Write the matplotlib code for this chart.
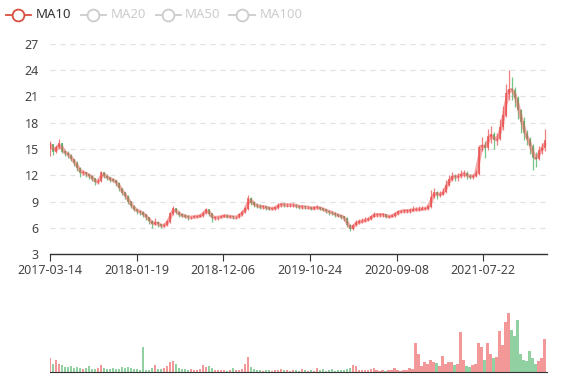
import numpy as np
import pandas as pd
import matplotlib
matplotlib.use("Agg")
import matplotlib.pyplot as plt
from matplotlib.lines import Line2D

plt.rcParams['font.family'] = ['Noto Sans', 'DejaVu Sans']

# tick labels on the category (trading day) axis
date_labels = ['2017-03-14', '2018-01-19', '2018-12-06', '2019-10-24', '2020-09-08', '2021-07-22']
label_days = [0, 207, 414, 621, 828, 1035]
total_days = 1187
days_per_sample = 7.16

# prices, roughly one sample per 7 trading days
first_open = 15.0
closes = [
    15.5, 14.6, 15.2, 15.6, 14.7, 14.5, 14.3, 13.8, 13.4, 12.8,
    12.3, 12.3, 12.1, 11.9, 11.6, 11.2, 11.3, 12.3, 11.9, 11.7,
    11.5, 11.4, 11.1, 10.5, 10.0, 9.6, 9.0, 8.5, 8.1, 7.9,
    7.8, 7.5, 7.2, 6.8, 6.4, 6.6, 6.4, 6.2, 6.3, 6.7,
    7.6, 8.2, 7.8, 7.5, 7.4, 7.3, 7.2, 7.2, 7.3, 7.3,
    7.4, 7.7, 8.1, 7.6, 7.1, 7.2, 7.2, 7.3, 7.4, 7.3,
    7.3, 7.2, 7.2, 7.5, 7.8, 8.2, 9.4, 8.9, 8.6, 8.5,
    8.4, 8.4, 8.3, 8.2, 8.2, 8.3, 8.6, 8.7, 8.6, 8.6,
    8.6, 8.6, 8.5, 8.4, 8.4, 8.35, 8.35, 8.2, 8.3, 8.35,
    8.2, 8.1, 7.9, 7.8, 7.7, 7.5, 7.4, 7.3, 7.1, 6.3,
    5.9, 6.3, 6.6, 6.7, 6.8, 6.9, 7.0, 7.3, 7.5, 7.5,
    7.5, 7.5, 7.3, 7.3, 7.4, 7.6, 7.85, 7.9, 7.95, 7.95,
    7.95, 8.1, 8.1, 8.1, 8.2, 8.2, 8.4, 9.5, 10.0, 9.8,
    9.8, 10.1, 10.9, 11.5, 11.85, 11.8, 11.9, 12.1, 12.2, 11.9,
    11.85, 11.9, 12.2, 15.2, 15.4, 15.1, 16.4, 16.6, 16.0, 16.1,
    17.5, 18.8, 21.3, 21.8, 21.7, 20.8, 19.4, 18.1, 16.8, 16.1,
    15.3, 14.0, 13.9, 14.8, 15.1, 16.0,
]
highs = [
    15.9, 15.6, 15.5, 16.1, 15.7, 14.9, 14.8, 14.4, 13.9, 13.6,
    12.9, 12.6, 12.4, 12.2, 12.0, 11.7, 11.6, 12.5, 12.4, 12.1,
    11.8, 11.7, 11.5, 11.2, 10.6, 10.1, 9.7, 9.1, 8.6, 8.2,
    8.1, 7.9, 7.6, 7.3, 6.9, 7.1, 6.8, 6.5, 6.6, 6.9,
    7.8, 8.5, 8.3, 7.9, 7.7, 7.6, 7.5, 7.4, 7.5, 7.5,
    7.6, 7.9, 8.3, 8.2, 7.7, 7.4, 7.4, 7.5, 7.6, 7.5,
    7.5, 7.4, 7.4, 7.7, 8.0, 8.4, 9.7, 9.5, 9.1, 8.8,
    8.7, 8.6, 8.5, 8.4, 8.4, 8.5, 8.9, 8.9, 8.8, 8.8,
    8.8, 8.8, 8.7, 8.6, 8.6, 8.5, 8.5, 8.4, 8.5, 8.6,
    8.4, 8.3, 8.2, 8.0, 7.9, 7.8, 7.6, 7.5, 7.4, 7.2,
    6.4, 6.5, 6.9, 7.0, 7.1, 7.2, 7.3, 7.5, 7.8, 7.7,
    7.7, 7.7, 7.6, 7.5, 7.6, 7.8, 8.1, 8.1, 8.2, 8.2,
    8.3, 8.5, 8.4, 8.5, 8.5, 8.4, 8.6, 10.3, 10.5, 10.2,
    10.2, 10.5, 11.5, 12.0, 12.4, 12.2, 12.3, 12.6, 12.6, 12.5,
    12.2, 12.2, 12.6, 15.4, 16.4, 15.9, 17.3, 17.6, 16.9, 16.8,
    18.4, 19.9, 22.4, 24.0, 23.2, 22.0, 21.0, 19.6, 18.6, 17.2,
    16.4, 15.6, 14.6, 15.3, 15.7, 17.3,
]
lows = [
    14.2, 14.3, 14.5, 15.0, 14.5, 14.2, 14.0, 13.6, 13.1, 12.5,
    11.8, 12.0, 11.8, 11.6, 11.3, 10.9, 11.0, 11.2, 11.7, 11.5,
    11.2, 11.2, 10.8, 10.2, 9.8, 9.3, 8.7, 8.3, 7.9, 7.6,
    7.5, 7.2, 6.9, 6.5, 6.0, 6.3, 6.1, 6.0, 6.1, 6.2,
    6.6, 7.5, 7.6, 7.3, 7.2, 7.1, 6.9, 7.0, 7.1, 7.1,
    7.2, 7.3, 7.6, 7.4, 6.7, 6.9, 6.9, 7.1, 7.2, 7.1,
    7.1, 7.0, 7.0, 7.1, 7.4, 7.7, 8.1, 8.6, 8.4, 8.3,
    8.2, 8.2, 8.1, 8.0, 8.0, 8.1, 8.2, 8.4, 8.4, 8.4,
    8.4, 8.4, 8.3, 8.2, 8.2, 8.2, 8.2, 8.0, 8.1, 8.2,
    8.0, 7.9, 7.7, 7.5, 7.5, 7.3, 7.2, 7.0, 6.8, 6.1,
    5.7, 5.8, 6.2, 6.5, 6.6, 6.7, 6.8, 6.9, 7.2, 7.3,
    7.3, 7.3, 7.1, 7.1, 7.2, 7.3, 7.5, 7.7, 7.7, 7.7,
    7.7, 7.9, 7.9, 7.9, 8.0, 8.0, 8.1, 8.3, 9.4, 9.3,
    9.5, 9.7, 10.0, 10.8, 11.3, 11.4, 11.4, 11.7, 11.8, 11.6,
    11.6, 11.6, 11.8, 12.0, 14.8, 14.0, 14.9, 15.7, 15.0, 15.4,
    16.0, 17.2, 18.6, 20.6, 20.6, 19.8, 18.4, 16.8, 16.0, 15.4,
    14.4, 12.6, 13.0, 13.7, 14.4, 14.8,
]
volumes = [
    14, 8, 12, 8, 7, 5, 5, 6, 4, 5,
    4, 3, 4, 6, 3, 3, 4, 7, 4, 3,
    3, 4, 3, 3, 5, 4, 5, 4, 3, 3,
    2, 25, 2, 2, 4, 7, 3, 3, 4, 6,
    10, 11, 8, 4, 3, 3, 2, 3, 2, 2,
    3, 7, 5, 6, 4, 2, 2, 2, 2, 1,
    2, 4, 2, 2, 3, 8, 15, 5, 3, 2,
    2, 1, 2, 2, 1, 2, 2, 3, 2, 2,
    1, 2, 2, 1, 3, 2, 1, 2, 1, 4,
    2, 3, 1, 2, 3, 1, 2, 2, 2, 3,
    4, 7, 6, 2, 2, 2, 2, 3, 4, 2,
    1, 2, 1, 2, 2, 4, 2, 1, 2, 2,
    4, 3, 29, 18, 6, 10, 8, 12, 10, 9,
    6, 16, 8, 10, 10, 7, 8, 40, 12, 6,
    5, 7, 8, 29, 25, 12, 29, 18, 14, 15,
    41, 27, 50, 59, 42, 36, 52, 18, 12, 11,
    21, 14, 8, 11, 14, 33,
]

UP = '#eb5454'
DOWN = '#47b262'
TEXT = '#444444'

closes = np.array(closes)
opens = np.concatenate([[first_open], closes[:-1]])
highs = np.array(highs)
lows = np.array(lows)
x = np.arange(len(closes)) * days_per_sample
rising = closes >= opens
colors = np.where(rising, UP, DOWN)
ma10 = pd.Series(closes).rolling(2, min_periods=1).mean()

W, H = 577, 380
fig = plt.figure(figsize=(W / 100, H / 100), dpi=100)
ax = fig.add_axes([50 / W, 1 - 254.3 / H, 497 / W, 210.7 / H])
axv = fig.add_axes([50 / W, 1 - 372.3 / H, 497 / W, 59.3 / H])

# candles
bw = days_per_sample * 0.7
ax.vlines(x, lows, highs, colors=colors, lw=0.9, alpha=0.75, zorder=3)
ax.bar(x, np.abs(closes - opens) + 0.05, bottom=np.minimum(opens, closes),
       width=bw, color=colors, alpha=0.75, zorder=3, linewidth=0)
ax.plot(x, ma10, color=UP, lw=2.6, alpha=0.5, zorder=4, solid_capstyle='round')

ax.set_xlim(0, total_days)
ax.set_ylim(3, 27)
ax.set_yticks(range(3, 28, 3))
ax.grid(axis='y', color='#e0e0e0', linestyle=(0, (4, 4)), lw=0.9)
ax.set_axisbelow(True)
for s in ['top', 'right', 'left']:
    ax.spines[s].set_visible(False)
ax.spines['bottom'].set_color('#333333')
ax.spines['bottom'].set_linewidth(1)
ax.set_xticks(label_days)
ax.set_xticklabels(date_labels)
ax.tick_params(axis='x', length=5, color='#333333', labelsize=9, labelcolor=TEXT, pad=2)
ax.tick_params(axis='y', length=0, labelsize=9, labelcolor=TEXT, pad=8)

# volume
axv.bar(x, volumes, width=days_per_sample * 0.85, color=colors, alpha=0.6, linewidth=0)
axv.set_xlim(0, total_days)
axv.set_ylim(0, max(volumes))
axv.set_yticks([])
axv.set_xticks([])
for s in ['top', 'right', 'left']:
    axv.spines[s].set_visible(False)
axv.spines['bottom'].set_color('#333333')

# legend
def px(xp, yp):
    return xp / W, 1 - yp / H

legend_items = [('MA10', 18, 36, '#d94e3f', '#333333'),
                ('MA20', 93, 110.5, '#cccccc', '#cccccc'),
                ('MA50', 168, 185, '#cccccc', '#cccccc'),
                ('MA100', 242, 260, '#cccccc', '#cccccc')]
for name, cx, tx, icol, tcol in legend_items:
    x0, y0 = px(cx - 12.5, 15)
    x1, _ = px(cx + 12.5, 15)
    fig.add_artist(Line2D([x0, x1], [y0, y0], color=icol, lw=1.3, transform=fig.transFigure))
    fig.add_artist(Line2D([(x0 + x1) / 2], [y0], marker='o', markersize=8.5,
                          markerfacecolor='white', markeredgecolor=icol, markeredgewidth=1.3,
                          transform=fig.transFigure))
    tx_f, ty_f = px(tx, 15)
    fig.text(tx_f, ty_f, name, color=tcol, fontsize=9.5, va='center', ha='left')

fig.savefig('out.png', dpi=100)
